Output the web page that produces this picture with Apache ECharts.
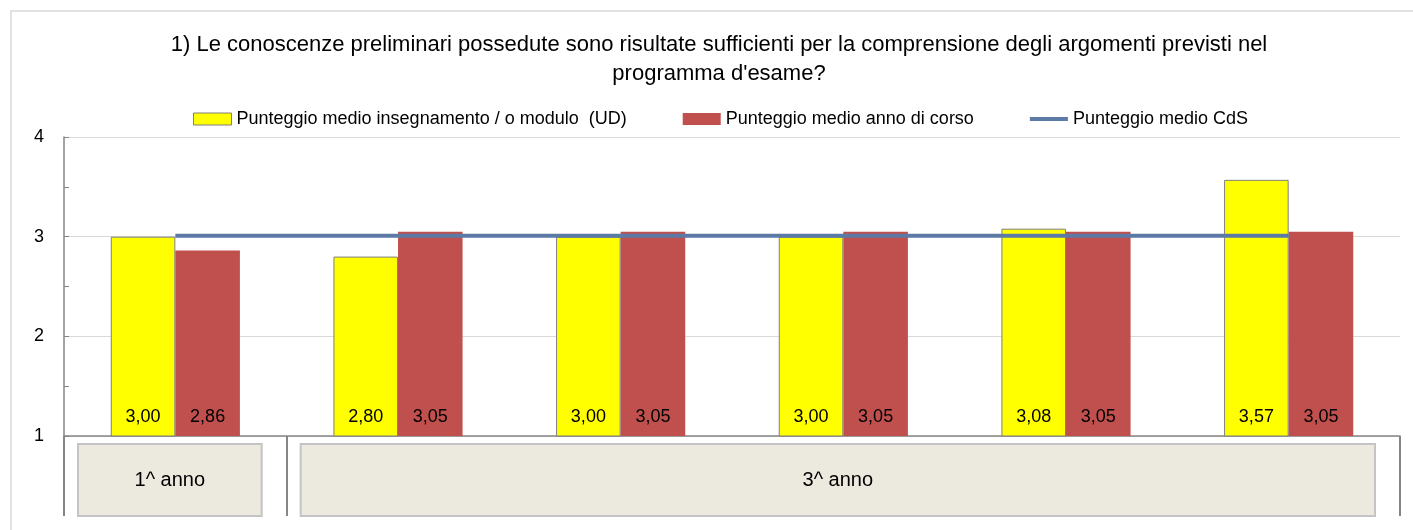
<!DOCTYPE html>
<html>
<head>
<meta charset="utf-8">
<script src="https://cdn.jsdelivr.net/npm/echarts@6/dist/echarts.min.js"></script>
<style>
html,body{margin:0;padding:0;background:#fff;}
#c{width:1413px;height:530px;}
</style>
</head>
<body>
<div id="c"></div>
<script>
// ---- data ----
const categories = ['c1', 'c2', 'c3', 'c4', 'c5', 'c6'];
const udValues = [3.00, 2.80, 3.00, 3.00, 3.08, 3.57];
const annoValues = [2.86, 3.05, 3.05, 3.05, 3.05, 3.05];
const cdsValues = [3.01, 3.01, 3.01, 3.01, 3.01, 3.01];
const groupLabels = ['1^ anno', '3^ anno'];
const groupStart = [0, 1];
const groupEnd = [0, 5];
const seriesNames = ['Punteggio medio insegnamento / o modulo  (UD)', 'Punteggio medio anno di corso', 'Punteggio medio CdS'];
const titleText = "1) Le conoscenze preliminari possedute sono risultate sufficienti per la comprensione degli argomenti previsti nel\nprogramma d'esame?";

const FONT = 'Liberation Sans';
const LINE_COLOR = '#5b7aa6';
const chart = echarts.init(document.getElementById('c'), null, {renderer: 'canvas'});
const fmt = p => p.value.toFixed(2).replace('.', ',');

const option = {
  animation: false,
  textStyle: {fontFamily: FONT},
  title: {
    text: titleText,
    left: 714,
    textAlign: 'center',
    top: 25,
    textStyle: {fontFamily: FONT, fontSize: 22, fontWeight: 'normal', color: '#000', lineHeight: 29}
  },
  legend: {
    top: 105,
    left: 188,
    itemWidth: 38,
    itemHeight: 12,
    itemGap: 56,
    textStyle: {fontFamily: FONT, fontSize: 18, color: '#000'},
    data: [
      {name: seriesNames[0], icon: 'rect', itemStyle: {borderWidth: 1, borderColor: '#7f7f7f'}},
      {name: seriesNames[1], icon: 'rect'},
      {name: seriesNames[2], icon: 'path://M0,0 L38,0 L38,4 L0,4 Z', itemStyle: {color: LINE_COLOR}}
    ]
  },
  grid: {left: 64, right: 13, top: 137, bottom: 94, containLabel: false},
  xAxis: {
    type: 'category',
    data: categories,
    axisLine: {lineStyle: {color: '#868686', width: 1.5}},
    axisTick: {show: false},
    axisLabel: {show: false}
  },
  yAxis: {
    type: 'value',
    min: 1, max: 4, interval: 1,
    axisLine: {show: true, lineStyle: {color: '#868686', width: 1.5}},
    axisTick: {show: true, inside: true, length: 5, lineStyle: {color: '#868686'}},
    minorTick: {show: true, splitNumber: 2, length: 5, lineStyle: {color: '#868686'}},
    axisLabel: {fontFamily: FONT, fontSize: 18, color: '#000', margin: 20},
    splitLine: {lineStyle: {color: '#d9d9d9', width: 1}}
  },
  series: [
    {
      name: seriesNames[0], type: 'bar', data: udValues,
      barGap: '0%', barCategoryGap: '42%',
      itemStyle: {color: '#ffff00', borderColor: '#7f7f7f', borderWidth: 1},
      label: {show: true, position: 'insideBottom', distance: 10, formatter: fmt,
              fontFamily: FONT, fontSize: 18, color: '#000'}
    },
    {
      name: seriesNames[1], type: 'bar', data: annoValues,
      barGap: '0%', barCategoryGap: '42%',
      itemStyle: {color: '#c0504d'},
      label: {show: true, position: 'insideBottom', distance: 10, formatter: fmt,
              fontFamily: FONT, fontSize: 18, color: '#000'}
    },
    {
      name: seriesNames[2], type: 'line', data: cdsValues,
      symbol: 'none', z: 5,
      lineStyle: {color: LINE_COLOR, width: 4},
      itemStyle: {color: LINE_COLOR}
    }
  ]
};
chart.setOption(option);

function drawGroups() {
  const c0 = chart.convertToPixel({xAxisIndex: 0}, 0);
  const c1 = chart.convertToPixel({xAxisIndex: 0}, 1);
  const slot = c1 - c0;
  const yBase = chart.convertToPixel({yAxisIndex: 0}, 1);
  const els = [];
  els.push({type: 'rect', shape: {x: 11, y: 11, width: 1500, height: 700},
            style: {fill: null, stroke: '#d9d9d9', lineWidth: 1.5}, silent: true, z: -1});
  const bounds = new Set();
  for (let g = 0; g < groupLabels.length; g++) {
    const left = chart.convertToPixel({xAxisIndex: 0}, groupStart[g]) - slot / 2;
    const right = chart.convertToPixel({xAxisIndex: 0}, groupEnd[g]) + slot / 2;
    bounds.add(Math.round(left)); bounds.add(Math.round(right));
    const bx = left + 14, bw = right - left - 39;
    els.push({type: 'rect', shape: {x: bx, y: yBase + 8, width: bw, height: 72},
              style: {fill: '#ece9df', stroke: '#c4c4c4', lineWidth: 2}, silent: true});
    els.push({type: 'text', x: bx + bw / 2, y: yBase + 44,
              style: {text: groupLabels[g], font: '20px ' + FONT, fill: '#000', align: 'center', verticalAlign: 'middle'}, silent: true});
  }
  bounds.forEach(x => {
    els.push({type: 'line', shape: {x1: x, y1: yBase, x2: x, y2: yBase + 80},
              style: {stroke: '#868686', lineWidth: 2}, silent: true});
  });
  chart.setOption({graphic: {elements: els}});
}
drawGroups();
</script>
</body>
</html>
